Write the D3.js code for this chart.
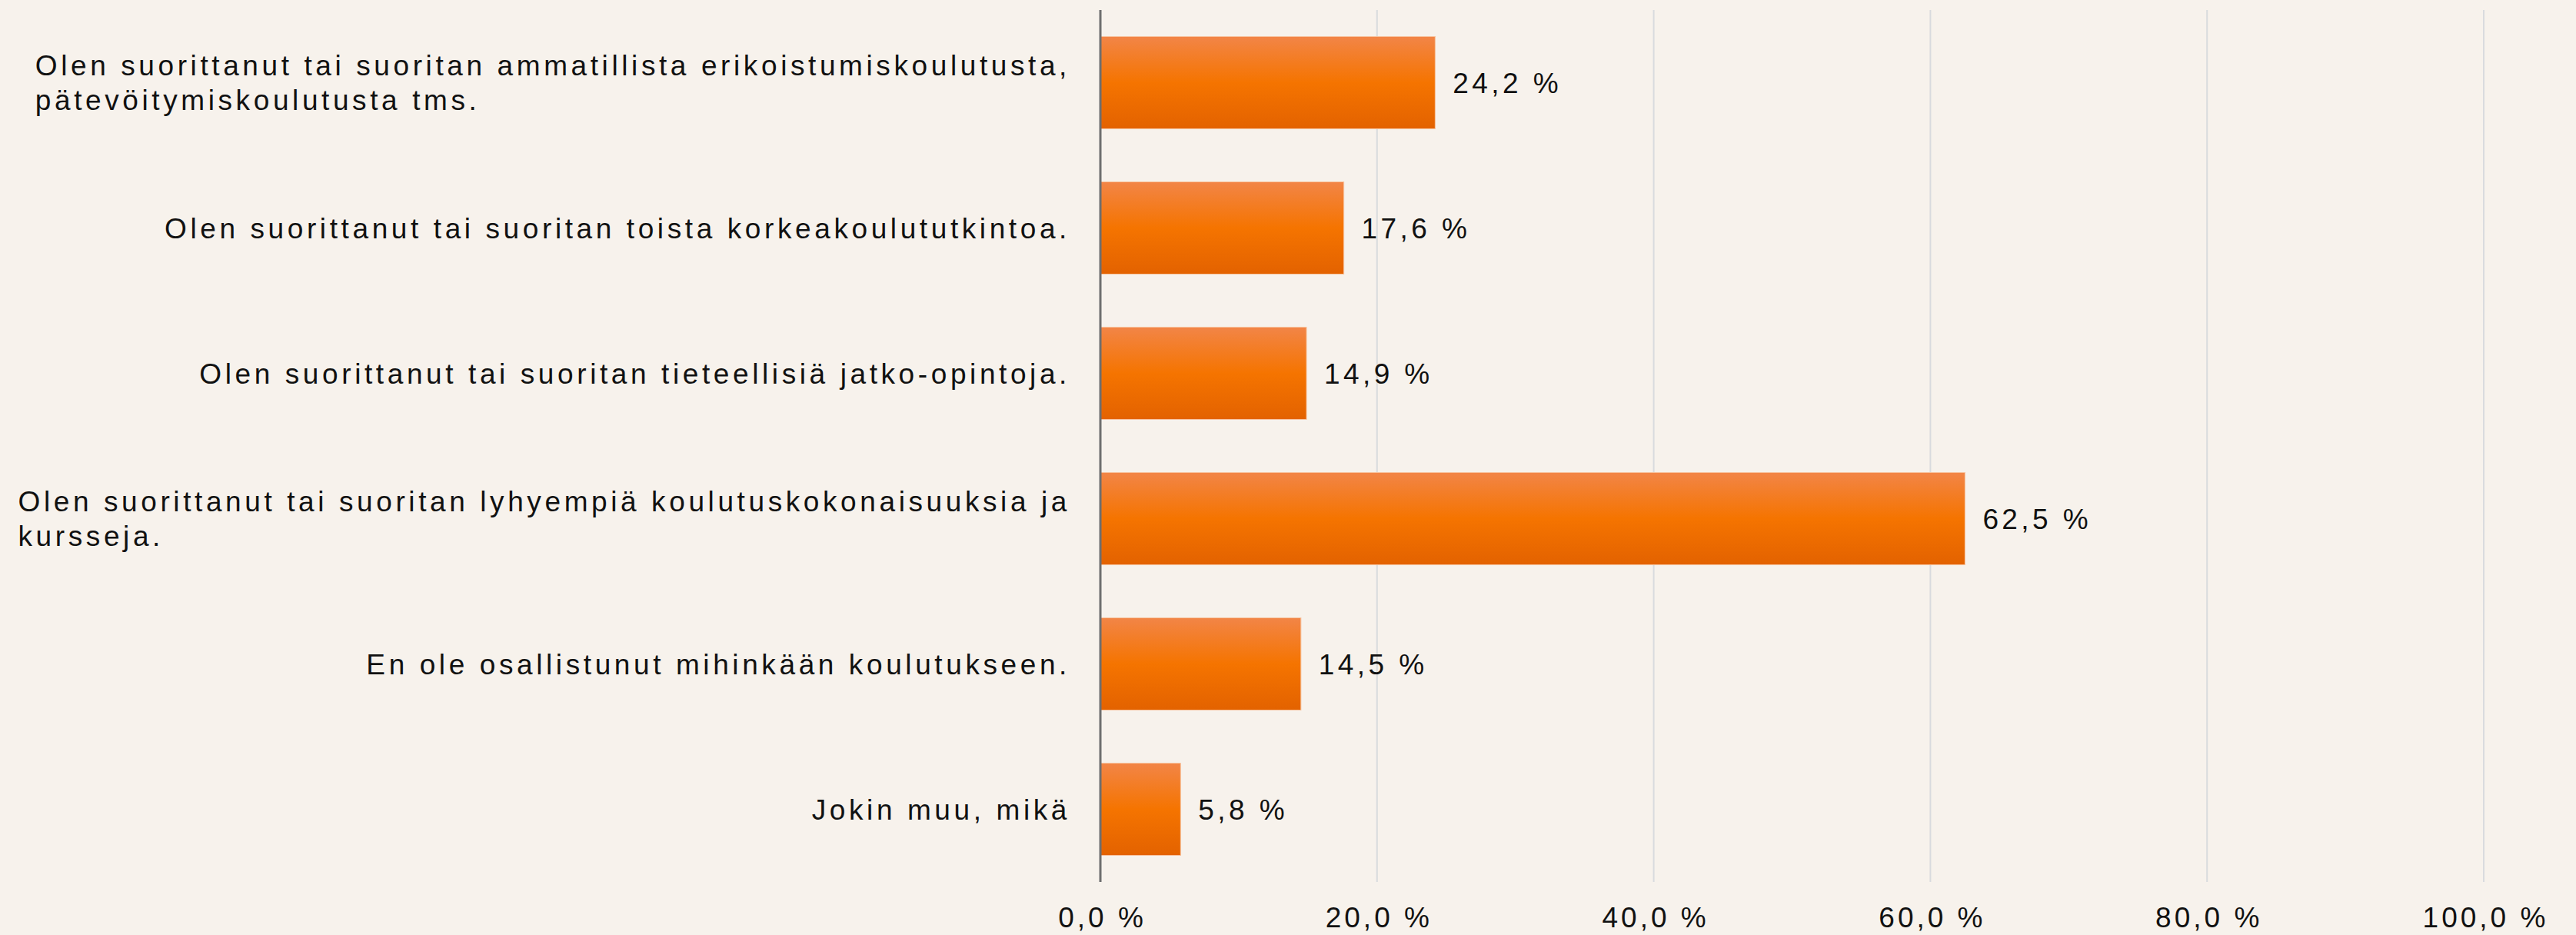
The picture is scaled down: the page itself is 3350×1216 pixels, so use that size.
<!DOCTYPE html>
<html>
<head>
<meta charset="utf-8">
<script src="https://cdn.jsdelivr.net/npm/d3@7"></script>
<style>
  html, body { margin: 0; padding: 0; background: #f7f2ec; }
  svg { display: block; }
  text { font-family: "Liberation Sans", Arial, sans-serif; fill: #111; }
</style>
</head>
<body>
<svg id="chart" width="3350" height="1216"></svg>
<script>
const categories = [
  ["Olen suorittanut tai suoritan ammatillista erikoistumiskoulutusta,", "pätevöitymiskoulutusta tms."],
  ["Olen suorittanut tai suoritan toista korkeakoulututkintoa."],
  ["Olen suorittanut tai suoritan tieteellisiä jatko-opintoja."],
  ["Olen suorittanut tai suoritan lyhyempiä koulutuskokonaisuuksia ja", "kursseja."],
  ["En ole osallistunut mihinkään koulutukseen."],
  ["Jokin muu, mikä"]
];
const values = [24.2, 17.6, 14.9, 62.5, 14.5, 5.8];
const valueLabels = ["24,2 %", "17,6 %", "14,9 %", "62,5 %", "14,5 %", "5,8 %"];
const tickValues = [0, 20, 40, 60, 80, 100];
const tickLabels = ["0,0 %", "20,0 %", "40,0 %", "60,0 %", "80,0 %", "100,0 %"];

(function () {
const svg = d3.select("#chart");
const plotLeft = 1431, plotRight = 3230, plotTop = 13, plotBottom = 1147;
const fontSize = 37, letterSpacing = 4.6, tickSpacing = 4;

const x = d3.scaleLinear().domain([0, 100]).range([plotLeft, plotRight]);
const y = d3.scaleBand().domain(d3.range(categories.length)).range([plotTop, plotBottom]).paddingInner(0.365).paddingOuter(0.1825);

const defs = svg.append("defs");
const grad = defs.append("linearGradient").attr("id", "barGrad").attr("x1", 0).attr("y1", 0).attr("x2", 0).attr("y2", 1);
grad.append("stop").attr("offset", "0%").attr("stop-color", "#f28547");
grad.append("stop").attr("offset", "50%").attr("stop-color", "#f57400");
grad.append("stop").attr("offset", "100%").attr("stop-color", "#e36200");

// gridlines
svg.append("g").selectAll("line").data(tickValues.filter(d => d > 0)).join("line")
  .attr("x1", d => x(d)).attr("x2", d => x(d))
  .attr("y1", plotTop).attr("y2", plotBottom)
  .attr("stroke", "#d9dbde").attr("stroke-width", 2);

// bars
svg.append("g").selectAll("rect").data(values).join("rect")
  .attr("x", x(0))
  .attr("y", (d, i) => y(i))
  .attr("width", d => x(d) - x(0))
  .attr("height", y.bandwidth())
  .attr("fill", "url(#barGrad)")
  .attr("stroke", "#f7c4a0").attr("stroke-width", 1);

// axis line
svg.append("line").attr("x1", x(0)).attr("x2", x(0)).attr("y1", plotTop).attr("y2", plotBottom)
  .attr("stroke", "#6e6e6e").attr("stroke-width", 3);

// value labels
svg.append("g").selectAll("text").data(values).join("text")
  .attr("x", d => x(d) + 23)
  .attr("y", (d, i) => y(i) + y.bandwidth() / 2)
  .attr("dy", "0.36em")
  .attr("font-size", fontSize)
  .attr("letter-spacing", 4.4)
  .text((d, i) => valueLabels[i]);

// category labels
const lineH = 45;
const labelRight = 1392;
const catG = svg.append("g");
categories.forEach((lines, i) => {
  const cy = y(i) + y.bandwidth() / 2;
  const g = catG.append("g");
  const texts = lines.map((ln, j) => g.append("text")
    .attr("font-size", fontSize)
    .attr("letter-spacing", letterSpacing)
    .attr("y", cy + (j - (lines.length - 1) / 2) * lineH)
    .attr("dy", "0.36em")
    .text(ln));
  const widths = texts.map(t => t.node().getComputedTextLength());
  const maxW = d3.max(widths);
  texts.forEach(t => t.attr("x", labelRight - maxW));
});

// tick labels
const axis = d3.axisBottom(x).tickValues(tickValues).tickFormat((d, i) => tickLabels[i]).tickSize(0).tickPadding(0);
const ag = svg.append("g").attr("transform", `translate(0, ${plotBottom})`).call(axis);
ag.select(".domain").remove();
ag.selectAll("text")
  .attr("font-size", fontSize)
  .attr("letter-spacing", tickSpacing)
  .attr("font-family", "Liberation Sans, Arial, sans-serif")
  .attr("fill", "#111")
  .attr("x", tickSpacing / 2)
  .attr("y", 46)
  .attr("dy", "0.36em");
})();
</script>
</body>
</html>
